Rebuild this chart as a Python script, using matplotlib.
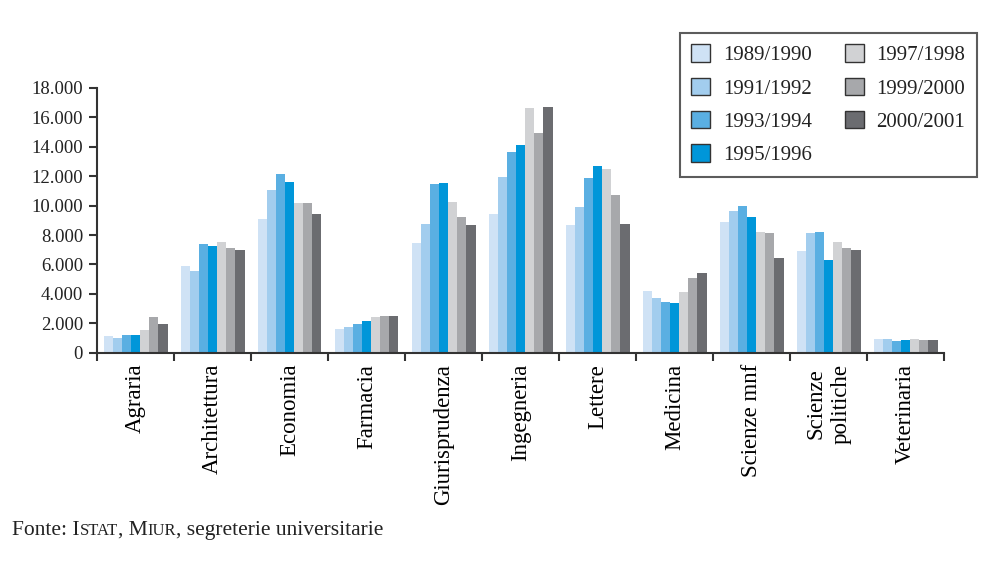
import numpy as np
import matplotlib
matplotlib.use('Agg')
from matplotlib import pyplot as plt
from matplotlib.patches import Patch
from matplotlib.ticker import FuncFormatter

plt.rcParams['font.family'] = ['Liberation Serif', 'DejaVu Serif']

facolta = ['Agraria', 'Architettura', 'Economia', 'Farmacia', 'Giurisprudenza',
           'Ingegneria', 'Lettere', 'Medicina', 'Scienze mnf', 'Scienze\npolitiche',
           'Veterinaria']
anni = ['1989/1990', '1991/1992', '1993/1994', '1995/1996',
        '1997/1998', '1999/2000', '2000/2001']
colori = ['#cfe2f5', '#a2cdee', '#5aafe2', '#0096d9',
          '#d1d2d4', '#a7a8ab', '#6b6c70']

# iscritti per anno accademico
v_1989 = [1130, 5900, 9100, 1610, 7460, 9430, 8690, 4200, 8890, 6920, 930]
v_1991 = [1000, 5560, 11070, 1750, 8750, 11950, 9910, 3720, 9640, 8140, 930]
v_1993 = [1200, 7390, 12160, 1950, 11480, 13650, 11880, 3450, 9980, 8210, 790]
v_1995 = [1200, 7260, 11610, 2150, 11540, 14130, 12700, 3380, 9230, 6300, 860]
v_1997 = [1540, 7530, 10180, 2430, 10250, 16650, 12500, 4130, 8210, 7530, 930]
v_1999 = [2430, 7120, 10180, 2500, 9230, 14950, 10730, 5080, 8140, 7120, 860]
v_2000 = [1950, 6990, 9440, 2500, 8690, 16720, 8750, 5420, 6440, 6990, 860]
serie = [v_1989, v_1991, v_1993, v_1995, v_1997, v_1999, v_2000]

fig = plt.figure(figsize=(10.01, 5.63), dpi=100)
ax = fig.add_axes([97 / 1001, 1 - 352.7 / 563, (944 - 97) / 1001, (352.7 - 88) / 563])

x = np.arange(len(facolta))
w = 64 / 77 / 7
for i, (vals, col) in enumerate(zip(serie, colori)):
    ax.bar(x + (i - 3) * w, vals, width=w, color=col, linewidth=0)

ax.set_xlim(-0.5, len(facolta) - 0.5)
ax.set_ylim(0, 18000)
ax.set_yticks(np.arange(0, 18001, 2000))
ax.yaxis.set_major_formatter(FuncFormatter(lambda v, p: f'{int(v):,}'.replace(',', '.')))

ax.set_xticks(x)
ax.set_xticklabels(facolta, rotation=90, va='top', ha='center', fontsize=16.5,
                   multialignment='center', linespacing=1.2)
ax.set_xticks(np.arange(-0.5, len(facolta)), minor=True)
ax.tick_params(axis='x', which='major', length=0, pad=8)
ax.tick_params(axis='x', which='minor', length=6, width=1.5, color='#333333')
ax.tick_params(axis='y', length=6, width=1.5, color='#333333', labelsize=13.5, pad=4,
               labelcolor='#222222')

for s in ['top', 'right']:
    ax.spines[s].set_visible(False)
for s in ['left', 'bottom']:
    ax.spines[s].set_color('#333333')
    ax.spines[s].set_linewidth(1.5)

handles = [Patch(facecolor=c, edgecolor='#333333', linewidth=1) for c in colori]
leg = fig.legend(handles, anni, ncol=2, loc='upper left',
                 bbox_to_anchor=(680 / 1001, 1 - 33 / 563), fontsize=15,
                 frameon=True, fancybox=False, handlelength=0.9, handleheight=0.9,
                 handletextpad=0.6, columnspacing=1.6, labelspacing=0.6,
                 borderpad=0.55, borderaxespad=0)
leg.get_frame().set_edgecolor('#333333')
leg.get_frame().set_linewidth(1.5)
for t in leg.get_texts():
    t.set_color('#222222')

# nota con maiuscoletto
pezzi = [('Fonte: I', 15.5), ('STAT', 12), (', M', 15.5), ('IUR', 12),
         (', segreterie universitarie', 15.5)]
renderer = fig.canvas.get_renderer()
xpos = 12 / 1001
for testo, size in pezzi:
    t = fig.text(xpos, 1 - 535 / 563, testo, fontsize=size, va='baseline',
                 ha='left', color='#222222')
    bb = t.get_window_extent(renderer)
    xpos = bb.x1 / fig.bbox.width

fig.savefig('out.png', dpi=100)
